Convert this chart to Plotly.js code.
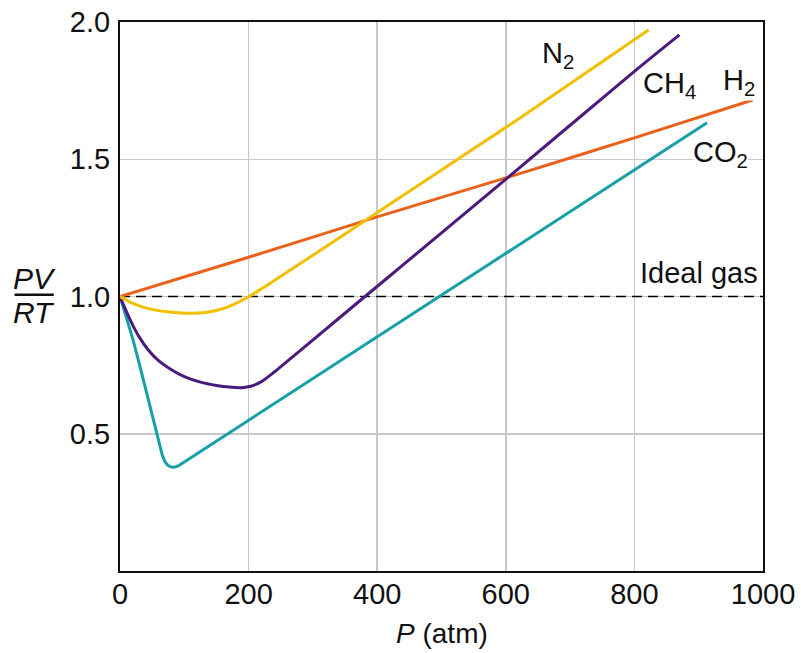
<!DOCTYPE html>
<html>
<head>
<meta charset="utf-8">
<script src="https://cdn.plot.ly/plotly-3.0.1.min.js"></script>
<style>html,body{margin:0;padding:0;background:#fff;}#chart{width:801px;height:653px;}</style>
</head>
<body>
<div id="chart"></div>
<script>
// Pressure values (atm) and PV/RT readings for each gas
const h2P   = [0, 200, 400, 600, 800, 984];
const h2Z   = [1.0, 1.143, 1.29, 1.432, 1.578, 1.716];

const n2P   = [0, 20, 44, 70, 95, 112, 130, 148, 174, 200, 220, 240, 260, 290, 340, 381, 436, 622, 822];
const n2Z   = [1.0, 0.975, 0.956, 0.945, 0.94, 0.939, 0.941, 0.948, 0.968, 0.999, 1.028, 1.058, 1.089, 1.135, 1.212, 1.276, 1.362, 1.65, 1.971];

const ch4P  = [0, 10, 20, 30, 44, 60, 80, 100, 125, 150, 170, 189, 205, 220, 240, 290, 381, 436, 604, 800, 870];
const ch4Z  = [1.0, 0.945, 0.895, 0.852, 0.805, 0.766, 0.733, 0.708, 0.688, 0.676, 0.67, 0.668, 0.674, 0.69, 0.725, 0.822, 1.0, 1.107, 1.435, 1.82, 1.953];

const co2P  = [0, 10, 20, 30, 40, 50, 60, 66, 70, 74, 78, 82, 86, 92, 100, 200, 400, 600, 800, 913];
const co2Z  = [1.0, 0.925, 0.845, 0.755, 0.66, 0.57, 0.475, 0.42, 0.398, 0.386, 0.38, 0.378, 0.379, 0.385, 0.397, 0.549, 0.853, 1.157, 1.461, 1.633];

const idealP = [0, 1000];
const idealZ = [1.0, 1.0];

const xTicks = [0, 200, 400, 600, 800, 1000];
const yTicks = [0.5, 1.0, 1.5, 2.0];
const yTickText = ["0.5", "1.0", "1.5", "2.0"];

const FONT = "Liberation Sans, Arial, Helvetica, sans-serif";

const traces = [
  {x: idealP, y: idealZ, mode: "lines", line: {color: "#000", width: 1.5, dash: "10px,6px"}, hoverinfo: "skip"},
  {x: h2P, y: h2Z, mode: "lines", line: {color: "#e8621c", width: 3, shape: "spline", smoothing: 0.6}},
  {x: co2P, y: co2Z, mode: "lines", line: {color: "#17a0a8", width: 3, shape: "linear"}},
  {x: ch4P, y: ch4Z, mode: "lines", line: {color: "#4a1a7c", width: 3, shape: "spline", smoothing: 0.8}},
  {x: n2P, y: n2Z, mode: "lines", line: {color: "#f0c000", width: 3, shape: "spline", smoothing: 0.6}}
];

const lab = (text, x, y) => ({text, x, y, xref: "x", yref: "y", xanchor: "left", yanchor: "middle",
  showarrow: false, font: {family: FONT, size: 29, color: "#111"}, bgcolor: "#fff", borderpad: 0});

const layout = {
  width: 801, height: 653,
  margin: {l: 120, r: 38, t: 22, b: 82},
  paper_bgcolor: "#fff", plot_bgcolor: "#fff",
  showlegend: false,
  font: {family: FONT, size: 29, color: "#111"},
  xaxis: {
    range: [0, 1000], tickvals: xTicks, ticks: "", ticklabelstandoff: -4,
    showgrid: true, gridcolor: "#c8c8c8", gridwidth: 1.5,
    showline: true, linecolor: "#111", linewidth: 2, mirror: true, zeroline: false,
    tickfont: {family: FONT, size: 29, color: "#111"}
  },
  yaxis: {
    range: [0, 2.0], tickvals: yTicks, ticktext: yTickText, ticks: "", ticklabelstandoff: 2,
    showgrid: true, gridcolor: "#c8c8c8", gridwidth: 1.5,
    showline: true, linecolor: "#111", linewidth: 2, mirror: true, zeroline: false,
    tickfont: {family: FONT, size: 29, color: "#111"}
  },
  annotations: [
    lab("N<sub>2</sub>", 654, 1.88),
    lab("CH<sub>4</sub>", 812, 1.77),
    lab("H<sub>2</sub>", 936, 1.78),
    lab("CO<sub>2</sub>", 889, 1.52),
    lab("Ideal gas", 807, 1.085),
    {text: "<i>PV</i>", xref: "paper", yref: "paper", x: -0.133, y: 0.532, xanchor: "center", yanchor: "middle",
     showarrow: false, font: {family: FONT, size: 30, color: "#111"}},
    {text: "<i>RT</i>", xref: "paper", yref: "paper", x: -0.133, y: 0.470, xanchor: "center", yanchor: "middle",
     showarrow: false, font: {family: FONT, size: 30, color: "#111"}},
    {text: "<i>P</i> (atm)", xref: "paper", yref: "paper", x: 0.5, y: -0.1135, xanchor: "center", yanchor: "middle",
     showarrow: false, font: {family: FONT, size: 28, color: "#111"}}
  ],
  shapes: [
    {type: "line", xref: "paper", yref: "paper", x0: -0.164, x1: -0.103, y0: 0.503, y1: 0.503,
     line: {color: "#111", width: 2.5}}
  ]
};

Plotly.newPlot("chart", traces, layout, {displayModeBar: false, staticPlot: true});
</script>
</body>
</html>
